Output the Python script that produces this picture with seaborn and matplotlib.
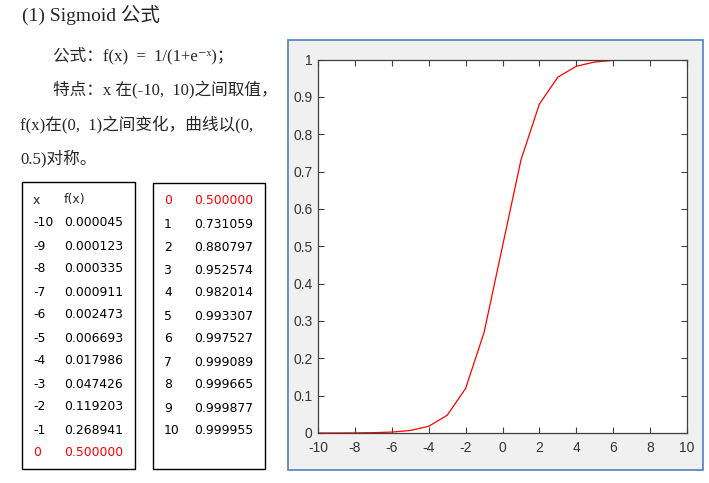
import matplotlib
matplotlib.use("Agg")
import matplotlib.pyplot as plt
import seaborn as sns
import pandas as pd
from matplotlib.patches import Rectangle

# table values
x_left = [-10, -9, -8, -7, -6, -5, -4, -3, -2, -1, 0]
f_left = [0.000045, 0.000123, 0.000335, 0.000911, 0.002473, 0.006693,
          0.017986, 0.047426, 0.119203, 0.268941, 0.500000]
x_right = [0, 1, 2, 3, 4, 5, 6, 7, 8, 9, 10]
f_right = [0.500000, 0.731059, 0.880797, 0.952574, 0.982014, 0.993307,
           0.997527, 0.999089, 0.999665, 0.999877, 0.999955]

x_ticks = list(range(-10, 11, 2))
y_ticks = [0, 0.1, 0.2, 0.3, 0.4, 0.5, 0.6, 0.7, 0.8, 0.9, 1]

title = "(1) Sigmoid 公式"
lines = ["公式：f(x)  =  1/(1+e⁻ˣ)；",
         "特点：x 在(-10,  10)之间取值，",
         "f(x)在(0,  1)之间变化，曲线以(0,",
         "0.5)对称。"]

sns.set_theme(style="white")
serif = ["Liberation Serif", "Noto Sans CJK SC", "DejaVu Serif"]
sans = ["DejaVu Sans", "Noto Sans CJK SC"]

W, H = 709, 483
fig = plt.figure(figsize=(W / 100, H / 100), dpi=100)


def px(x, y):
    return x / W, 1 - y / H


def box(x0, y0, x1, y1, **kw):
    fig.patches.append(Rectangle(px(x0, y1), (x1 - x0) / W, (y1 - y0) / H,
                                 transform=fig.transFigure, **kw))


# left column text
fig.text(*px(22, 21), title, family=serif, fontsize=14, va="baseline", ha="left")
text_pos = [(53, 60), (53, 95), (20, 130), (20, 163)]
for (tx, ty), s in zip(text_pos, lines):
    fig.text(*px(tx, ty), s, family=serif, fontsize=12, va="baseline", ha="left")

# tables
box(22, 182, 134.5, 469, fill=False, edgecolor="black", lw=1)
box(153, 183, 265, 469, fill=False, edgecolor="black", lw=1)
row_h = 23
fs = 8.9
fig.text(*px(33, 203.5), "x", family=sans, fontsize=fs, va="baseline")
fig.text(*px(64, 203.5), "f(x)", family=sans, fontsize=fs, va="baseline")
for i, (xv, fv) in enumerate(zip(x_left, f_left)):
    c = "red" if xv == 0 else "black"
    y = 203.5 + row_h * (i + 1)
    fig.text(*px(33, y), str(xv), family=sans, fontsize=fs, va="baseline", color=c)
    fig.text(*px(64, y), f"{fv:.6f}", family=sans, fontsize=fs, va="baseline", color=c)
for i, (xv, fv) in enumerate(zip(x_right, f_right)):
    c = "red" if xv == 0 else "black"
    y = 204.5 + row_h * i
    fig.text(*px(164, y), str(xv), family=sans, fontsize=fs, va="baseline", color=c)
    fig.text(*px(194, y), f"{fv:.6f}", family=sans, fontsize=fs, va="baseline", color=c)

# plot panel (gray background with blue frame), kept behind the axes
box(287.5, 40, 703, 470, facecolor="#f0f0f0", edgecolor="#4f81bd", lw=1.2, zorder=-1)

ax_l, ax_r, ax_t, ax_b = 318, 687, 59.5, 433
ax = fig.add_axes([ax_l / W, 1 - ax_b / H, (ax_r - ax_l) / W, (ax_b - ax_t) / H])
df = pd.DataFrame({"x": x_left + x_right[1:], "f": f_left + f_right[1:]})
sns.lineplot(data=df, x="x", y="f", color="red", lw=0.9, ax=ax)
ax.set_xlim(-10, 10)
ax.set_ylim(0, 1)
ax.set_xticks(x_ticks)
ax.set_yticks(y_ticks)
ax.set_xticklabels([str(t) for t in x_ticks])
ax.set_yticklabels([f"{t:g}" for t in y_ticks])
ax.set_xlabel("")
ax.set_ylabel("")
ax.set_facecolor("white")
for sp in ax.spines.values():
    sp.set_color("#404040")
    sp.set_linewidth(0.9)
ax.tick_params(direction="in", length=4.5, width=0.8, color="#404040",
               top=True, right=True, bottom=True, left=True,
               labelsize=10, labelcolor="#333333")
ax.tick_params(axis="x", pad=6)
ax.tick_params(axis="y", pad=4)
for lab in ax.get_xticklabels() + ax.get_yticklabels():
    lab.set_family("Liberation Sans")

fig.savefig("out.png", dpi=100)
